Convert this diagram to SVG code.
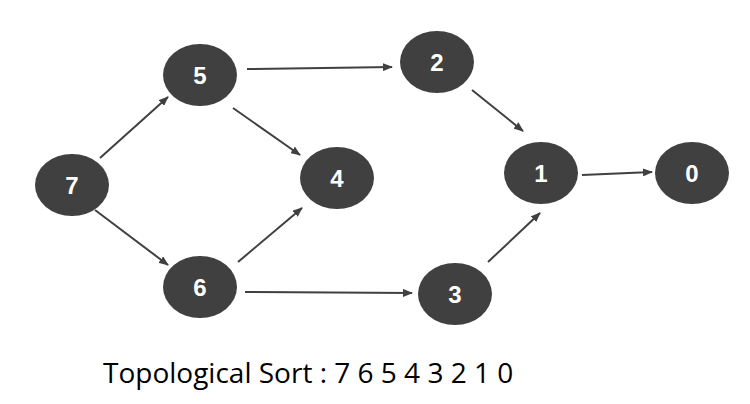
<svg xmlns="http://www.w3.org/2000/svg" width="750" height="404" viewBox="0 0 750 404">
<style>
.n ellipse{fill:#404040}
.n text{fill:#fff;font-family:"Liberation Sans",Arial,sans-serif;font-weight:bold;font-size:24px;text-anchor:middle;dominant-baseline:central}
.e line{stroke:#404040;stroke-width:2;marker-end:url(#a)}
.cap{font-family:"Open Sans","Liberation Sans",sans-serif;font-size:28px;fill:#000}
</style>
<defs><marker id="a" markerWidth="10" markerHeight="8" refX="9" refY="4" orient="auto" markerUnits="userSpaceOnUse"><path d="M0,0L10,4L0,8z" fill="#404040"/></marker></defs>
<rect width="750" height="404" fill="#fff"/>
<g class="e">
<line x1="100" y1="158" x2="168" y2="97"/>
<line x1="95" y1="210" x2="168" y2="265"/>
<line x1="247" y1="69" x2="392" y2="67"/>
<line x1="233" y1="108" x2="300" y2="155"/>
<line x1="238" y1="262" x2="302" y2="208"/>
<line x1="245" y1="292" x2="412" y2="293"/>
<line x1="472" y1="90" x2="523" y2="131"/>
<line x1="488" y1="262" x2="540" y2="213"/>
<line x1="582" y1="175" x2="652" y2="172"/>
</g>
<g id="n7" class="n"><ellipse cx="72" cy="185" rx="37" ry="31"/><text x="72" y="185">7</text></g>
<g id="n5" class="n"><ellipse cx="200" cy="75" rx="37" ry="31"/><text x="200" y="75">5</text></g>
<g id="n2" class="n"><ellipse cx="437" cy="62" rx="37" ry="31"/><text x="437" y="62">2</text></g>
<g id="n4" class="n"><ellipse cx="337" cy="178" rx="37" ry="31"/><text x="337" y="178">4</text></g>
<g id="n1" class="n"><ellipse cx="541" cy="173" rx="37" ry="31"/><text x="541" y="173">1</text></g>
<g id="n0" class="n"><ellipse cx="692" cy="173" rx="37" ry="31"/><text x="692" y="173">0</text></g>
<g id="n6" class="n"><ellipse cx="200" cy="287" rx="37" ry="31"/><text x="200" y="287">6</text></g>
<g id="n3" class="n"><ellipse cx="455" cy="294" rx="37" ry="31"/><text x="455" y="294">3</text></g>
<text class="cap" x="103" y="383">Topological Sort : 7 6 5 4 3 2 1 0</text>
</svg>
